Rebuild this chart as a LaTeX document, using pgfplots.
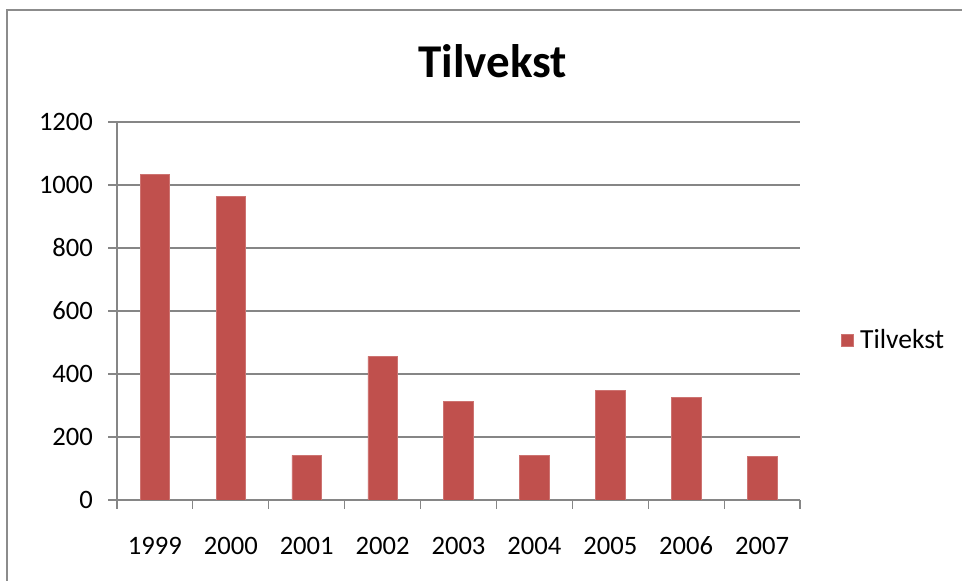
\documentclass[border=0pt]{standalone}
\usepackage{pgfplots}
\pgfplotsset{compat=1.18}
\usepackage{fontspec}
\setmainfont{Carlito}
\definecolor{barred}{HTML}{C0504D}
\definecolor{gridgray}{HTML}{868686}
\definecolor{framegray}{HTML}{8C8C8C}
\begin{document}
\begin{tikzpicture}
\useasboundingbox (0pt,0pt) rectangle (481pt,290.5pt);
\draw[framegray, line width=1.2pt] (3.5pt,0pt) -- (3.5pt,285.5pt) -- (485pt,285.5pt);
\begin{axis}[
  at={(58.5pt,40.5pt)}, anchor=south west,
  scale only axis,
  width=341.5pt, height=189pt,
  xmin=-0.5, xmax=8.5,
  ymin=0, ymax=1200,
  ytick={0,200,...,1200},
  xtick={0,...,8},
  xticklabels={1999,2000,2001,2002,2003,2004,2005,2006,2007},
  minor xtick={-0.5,0.5,...,8.5},
  major x tick style={draw=none},
  minor x tick style={gridgray, line width=0.6pt},
  minor tick length=4.5pt,
  y tick style={gridgray, line width=0.6pt},
  major tick length=4.5pt,
  tick align=outside,
  ymajorgrids,
  grid style={gridgray, line width=0.6pt},
  axis x line*=bottom,
  axis y line*=left,
  axis line style={gridgray, line width=0.6pt},
  x axis line style={-},
  y axis line style={-},
  ticklabel style={font=\fontsize{13.3}{15}\selectfont, text=black},
  /pgf/number format/assume math mode=true,
  /pgf/number format/1000 sep={},
  yticklabel style={xshift=-4pt},
  xticklabel style={yshift=-10pt, anchor=north, text height=9pt, text depth=0pt},
  title={\bfseries Tilvekst},
  title style={font=\fontsize{23.5}{26}\selectfont, at={(0.55,1)}, yshift=12.5pt},
  legend style={at={(1.05,0.423)}, anchor=west, draw=none, fill=none,
    font=\fontsize{13.8}{15}\selectfont},
  legend image code/.code={\fill[#1] (0pt,-3pt) rectangle (6pt,3pt);},
  legend cell align=left,
]
\addplot[ybar, bar width=14.75pt, fill=barred, draw=barred!80!white, line width=0.3pt]
  coordinates {(0,1033) (1,964) (2,142) (3,456) (4,313) (5,142) (6,349) (7,326) (8,139)};
\addlegendentry{\hspace{1.5pt}Tilvekst}
\end{axis}
\end{tikzpicture}
\end{document}
